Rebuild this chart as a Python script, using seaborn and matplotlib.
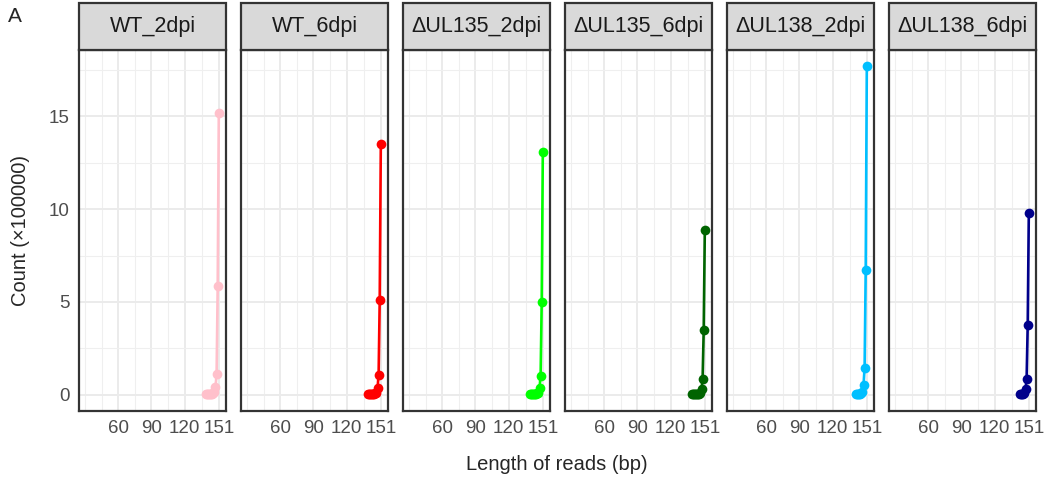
import numpy as np
import pandas as pd
import seaborn as sns
import matplotlib
matplotlib.use("Agg")
import matplotlib.pyplot as plt
from matplotlib.patches import Rectangle
from matplotlib.ticker import FixedLocator

# Samples shown as facets, in panel order, with their line colours
samples = ["WT_2dpi", "WT_6dpi", "ΔUL135_2dpi", "ΔUL135_6dpi", "ΔUL138_2dpi", "ΔUL138_6dpi"]
colors = ["#FFC0CB", "#FF0000", "#00FF00", "#006400", "#00BFFF", "#00008B"]

# Read lengths (bp) and read counts (in units of 100000) per sample
len_wt_2 = list(range(139, 152))
cnt_wt_2 = [0.01, 0.01, 0.01, 0.02, 0.02, 0.03, 0.04, 0.06, 0.12, 0.40, 1.10, 5.85, 15.2]

len_wt_6 = list(range(139, 152))
cnt_wt_6 = [0.01, 0.01, 0.01, 0.02, 0.02, 0.03, 0.04, 0.06, 0.10, 0.35, 1.05, 5.10, 13.5]

len_ul135_2 = list(range(139, 152))
cnt_ul135_2 = [0.01, 0.01, 0.01, 0.02, 0.02, 0.03, 0.04, 0.06, 0.10, 0.35, 1.00, 5.00, 13.1]

len_ul135_6 = list(range(139, 152))
cnt_ul135_6 = [0.01, 0.01, 0.01, 0.01, 0.02, 0.02, 0.03, 0.05, 0.08, 0.30, 0.85, 3.50, 8.90]

len_ul138_2 = list(range(141, 152))
cnt_ul138_2 = [0.01, 0.02, 0.02, 0.03, 0.05, 0.08, 0.15, 0.50, 1.45, 6.70, 17.7]

len_ul138_6 = list(range(143, 152))
cnt_ul138_6 = [0.01, 0.02, 0.03, 0.05, 0.10, 0.30, 0.85, 3.75, 9.80]

lengths = [len_wt_2, len_wt_6, len_ul135_2, len_ul135_6, len_ul138_2, len_ul138_6]
counts = [cnt_wt_2, cnt_wt_6, cnt_ul135_2, cnt_ul135_6, cnt_ul138_2, cnt_ul138_6]

x_ticks = [60, 90, 120, 151]
y_ticks = [0, 5, 10, 15]

df = pd.concat(
    [pd.DataFrame({"sample": s, "length": l, "count": c}) for s, l, c in zip(samples, lengths, counts)],
    ignore_index=True,
)

sns.set_theme(style="white")
plt.rcParams["font.family"] = ["Liberation Sans", "DejaVu Sans"]

W, H = 1051, 479
g = sns.relplot(
    data=df, x="length", y="count", col="sample", col_order=samples,
    hue="sample", hue_order=samples, palette=colors,
    kind="line", marker="o", markersize=7, markeredgewidth=0, linewidth=1.9,
    legend=False, facet_kws=dict(sharex=True, sharey=True),
    height=3, aspect=0.5,
)
fig = g.figure
fig.set_size_inches(W / 100, H / 100)
fig.set_dpi(100)

dark = "#333333"
panel_w, gap = 147, 15
left0, top, bottom = 79, 50, 411
strip_h = 47

for i, (ax, name) in enumerate(zip(g.axes.flat, samples)):
    x0 = left0 + i * (panel_w + gap)
    ax.set_position([x0 / W, (H - bottom) / H, panel_w / W, (bottom - top) / H])
    ax.set_xlim(24.5, 157.5)
    ax.set_ylim(-0.885, 18.585)
    ax.xaxis.set_major_locator(FixedLocator(x_ticks))
    ax.xaxis.set_minor_locator(FixedLocator([30, 45, 75, 105, 135.5]))
    ax.yaxis.set_major_locator(FixedLocator(y_ticks))
    ax.yaxis.set_minor_locator(FixedLocator([2.5, 7.5, 12.5, 17.5]))
    ax.set_xticklabels([str(t) for t in x_ticks])
    ax.grid(which="major", color="#EBEBEB", linewidth=1.4)
    ax.grid(which="minor", color="#EFEFEF", linewidth=0.8)
    ax.set_axisbelow(True)
    ax.set_facecolor("white")
    for sp in ax.spines.values():
        sp.set_visible(True)
        sp.set_color(dark)
        sp.set_linewidth(1.6)
    ax.tick_params(axis="both", which="major", length=4.5, width=1.2, color=dark,
                   labelsize=13.5, labelcolor="#4D4D4D", pad=2)
    ax.tick_params(axis="both", which="minor", length=0)
    if i > 0:
        ax.tick_params(axis="y", which="major", left=False, labelleft=False)
    else:
        ax.set_yticklabels([str(t) for t in y_ticks])
    ax.set_xlabel("")
    ax.set_ylabel("")
    ax.set_title("")
    # facet strip
    sh = strip_h / (bottom - top)
    ax.add_patch(Rectangle((0, 1), 1, sh, transform=ax.transAxes, facecolor="#D9D9D9",
                           edgecolor=dark, linewidth=1.6, clip_on=False, zorder=5))
    ax.text(0.5, 1 + sh / 2, name, transform=ax.transAxes, ha="center", va="center",
            fontsize=15.5, color="#1A1A1A", zorder=6)

fig.text(557 / W, 1 - 465 / H, "Length of reads (bp)", ha="center", va="center", fontsize=14.5)
fig.text(21 / W, 1 - 230 / H, "Count (×100000)", ha="center", va="center", rotation=90, fontsize=14.5)
fig.text(8 / W, 1 - 17 / H, "A", ha="left", va="center", fontsize=15)

fig.savefig("out.png", dpi=100)
